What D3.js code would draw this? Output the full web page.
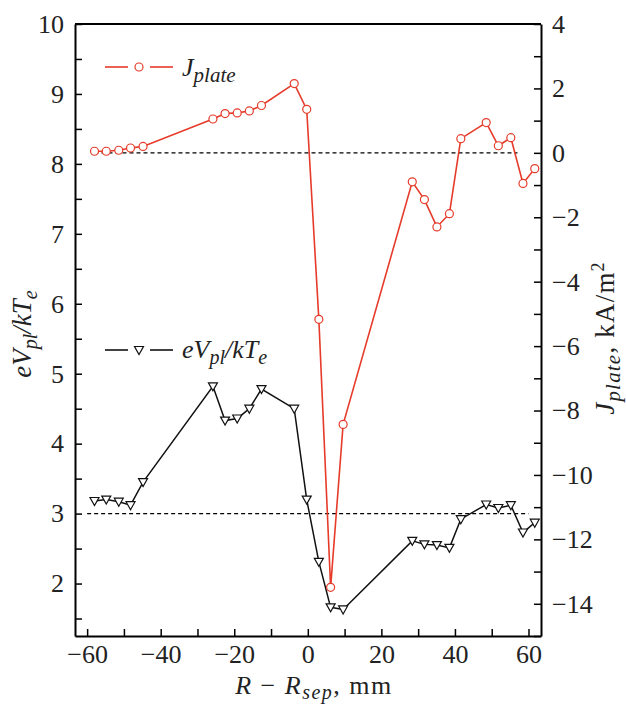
<!DOCTYPE html>
<html>
<head>
<meta charset="utf-8">
<script src="https://cdn.jsdelivr.net/npm/d3@7"></script>
<style>
  body { margin: 0; background: #fff; }
  svg { display: block; font-family: "Liberation Serif", "Times New Roman", serif; }
</style>
</head>
<body>
<div id="chart"></div>
<script>
// distance from separatrix, mm
var rPos = [-58.0, -54.8, -51.4, -48.2, -44.8, -25.8, -22.5, -19.2, -15.9, -12.6, -3.7, -0.3,
  3.0, 6.2, 9.6, 28.4, 31.7, 35.1, 38.5, 41.6, 48.5, 51.8, 55.2, 58.5, 61.7];
// plate current density, kA/m2 (right axis)
var jPlate = [0.05, 0.05, 0.08, 0.15, 0.2, 1.05, 1.22, 1.24, 1.3, 1.47, 2.15, 1.35,
  -5.17, -13.49, -8.43, -0.9, -1.45, -2.3, -1.89, 0.44, 0.94, 0.22, 0.47, -0.95, -0.49];
// eVpl/kTe (left axis)
var eVpl = [3.18, 3.2, 3.17, 3.12, 3.45, 4.82, 4.33, 4.36, 4.5, 4.78, 4.5, 3.2,
  2.31, 1.66, 1.63, 2.61, 2.56, 2.55, 2.51, 2.92, 3.13, 3.08, 3.12, 2.73, 2.87];

var xTicks = [-60, -50, -40, -30, -20, -10, 0, 10, 20, 30, 40, 50, 60];
var leftTicks = [1.5, 2, 2.5, 3, 3.5, 4, 4.5, 5, 5.5, 6, 6.5, 7, 7.5, 8, 8.5, 9, 9.5, 10];
var rightTicks = [-15, -14, -13, -12, -11, -10, -9, -8, -7, -6, -5, -4, -3, -2, -1, 0, 1, 2, 3, 4];

var red = "#e63b2a";
var serif = '"Liberation Serif", "Times New Roman", serif';
var W = 626, H = 704;
var pLeft = 75, pRight = 541, pTop = 24, pBottom = 636;

var svg = d3.select("#chart").append("svg").attr("width", W).attr("height", H)
  .attr("font-family", serif);

var x = d3.scaleLinear().domain([-63.3, 63.4]).range([pLeft, pRight]);
var yL = d3.scaleLinear().domain([1.25, 10]).range([pBottom, pTop]);
var yR = d3.scaleLinear().domain([-15, 4]).range([pBottom, pTop]);

// axes, ticks pointing inwards
function styleAxis(g) {
  g.attr("font-family", serif).attr("font-size", 26);
  g.select(".domain").attr("stroke-width", 2);
  g.selectAll(".tick line").attr("stroke-width", 1.5);
  g.selectAll(".tick text").attr("fill", "#222");
}
var minus = function (v) { return v < 0 ? "\u2212" + Math.abs(v) : "" + v; };

svg.append("g").attr("transform", "translate(0," + pBottom + ")")
  .call(d3.axisBottom(x).tickValues(xTicks).tickSizeInner(-7).tickSizeOuter(0).tickPadding(9)
    .tickFormat(function (d) { return d % 20 === 0 ? minus(d) : ""; }))
  .call(styleAxis);

svg.append("g").attr("transform", "translate(" + pLeft + ",0)")
  .call(d3.axisLeft(yL).tickValues(leftTicks).tickSizeInner(-7).tickSizeOuter(0).tickPadding(11)
    .tickFormat(function (d) { return d % 1 === 0 ? d : ""; }))
  .call(styleAxis);

svg.append("g").attr("transform", "translate(" + pRight + ",0)")
  .call(d3.axisRight(yR).tickValues(rightTicks).tickSizeInner(-7).tickSizeOuter(0).tickPadding(11)
    .tickFormat(function (d) { return d % 2 === 0 && d > -15 ? minus(d) : ""; }))
  .call(styleAxis);

svg.append("line").attr("x1", pLeft).attr("x2", pRight).attr("y1", pTop).attr("y2", pTop)
  .attr("stroke", "#000").attr("stroke-width", 2);

// reference dashed lines
svg.append("line").attr("x1", x(-58)).attr("x2", x(57)).attr("y1", yR(0)).attr("y2", yR(0))
  .attr("stroke", "#000").attr("stroke-width", 1.3).attr("stroke-dasharray", "4,3");
svg.append("line").attr("x1", x(-60)).attr("x2", x(60)).attr("y1", yL(3)).attr("y2", yL(3))
  .attr("stroke", "#000").attr("stroke-width", 1.3).attr("stroke-dasharray", "4,3");

var tri = "M-4.5,-3.5L4.5,-3.5L0,4.5Z";

// eVpl/kTe series
var lineL = d3.line().x(function (d, i) { return x(rPos[i]); }).y(function (d) { return yL(d); });
svg.append("path").datum(eVpl).attr("d", lineL).attr("fill", "none")
  .attr("stroke", "#111").attr("stroke-width", 1.5);
svg.append("g").selectAll("path").data(eVpl).join("path")
  .attr("d", tri)
  .attr("transform", function (d, i) { return "translate(" + x(rPos[i]) + "," + yL(d) + ")"; })
  .attr("fill", "#fff").attr("stroke", "#111").attr("stroke-width", 1.2);

// J plate series
var lineR = d3.line().x(function (d, i) { return x(rPos[i]); }).y(function (d) { return yR(d); });
svg.append("path").datum(jPlate).attr("d", lineR).attr("fill", "none")
  .attr("stroke", red).attr("stroke-width", 1.6);
svg.append("g").selectAll("circle").data(jPlate).join("circle")
  .attr("cx", function (d, i) { return x(rPos[i]); })
  .attr("cy", function (d) { return yR(d); })
  .attr("r", 4).attr("fill", "#fff").attr("stroke", red).attr("stroke-width", 1.2);

// legend
function legendRow(y, color, marker) {
  var g = svg.append("g");
  g.append("line").attr("x1", 105).attr("x2", 128).attr("y1", y).attr("y2", y)
    .attr("stroke", color).attr("stroke-width", 1.6);
  g.append("line").attr("x1", 150).attr("x2", 173).attr("y1", y).attr("y2", y)
    .attr("stroke", color).attr("stroke-width", 1.6);
  if (marker === "circle") {
    g.append("circle").attr("cx", 139).attr("cy", y).attr("r", 4)
      .attr("fill", "#fff").attr("stroke", color).attr("stroke-width", 1.2);
  } else {
    g.append("path").attr("d", tri).attr("transform", "translate(139," + y + ")")
      .attr("fill", "#fff").attr("stroke", color).attr("stroke-width", 1.2);
  }
  return g;
}
var l1 = legendRow(67, red, "circle");
var t1 = l1.append("text").attr("x", 182).attr("y", 76).attr("font-size", 26)
  .attr("font-style", "italic").attr("fill", "#222");
t1.append("tspan").text("J");
t1.append("tspan").attr("font-size", 21).attr("dy", 6).text("plate");

var l2 = legendRow(350, "#111", "tri");
var t2 = l2.append("text").attr("x", 182).attr("y", 358).attr("font-size", 26)
  .attr("font-style", "italic").attr("fill", "#222");
t2.append("tspan").text("eV");
t2.append("tspan").attr("font-size", 20).attr("dy", 6).text("pl");
t2.append("tspan").attr("dy", -6).text("/kT");
t2.append("tspan").attr("font-size", 20).attr("dy", 6).text("e");

// axis titles
var xt = svg.append("text").attr("x", 314).attr("y", 694).attr("text-anchor", "middle")
  .attr("font-size", 26).attr("letter-spacing", 1.5).attr("fill", "#222");
xt.append("tspan").attr("font-style", "italic").text("R");
xt.append("tspan").text(" \u2212 ");
xt.append("tspan").attr("font-style", "italic").text("R");
xt.append("tspan").attr("font-style", "italic").attr("font-size", 20).attr("dy", 5).text("sep");
xt.append("tspan").attr("dy", -5).text(", mm");

var yt = svg.append("text").attr("transform", "translate(31,334) rotate(-90)")
  .attr("text-anchor", "middle").attr("font-size", 27).attr("font-style", "italic").attr("fill", "#222");
yt.append("tspan").text("eV");
yt.append("tspan").attr("font-size", 20).attr("dy", 6).text("pl");
yt.append("tspan").attr("dy", -6).text("/kT");
yt.append("tspan").attr("font-size", 20).attr("dy", 6).text("e");

var rt = svg.append("text").attr("transform", "translate(614,338) rotate(-90)")
  .attr("text-anchor", "middle").attr("font-size", 27).attr("letter-spacing", 1.2).attr("fill", "#222");
rt.append("tspan").attr("font-style", "italic").text("J");
rt.append("tspan").attr("font-style", "italic").attr("font-size", 21).attr("dy", 6).text("plate");
rt.append("tspan").attr("dy", -6).text(", kA/m");
rt.append("tspan").attr("font-size", 18).attr("dy", -10).text("2");
</script>
</body>
</html>
